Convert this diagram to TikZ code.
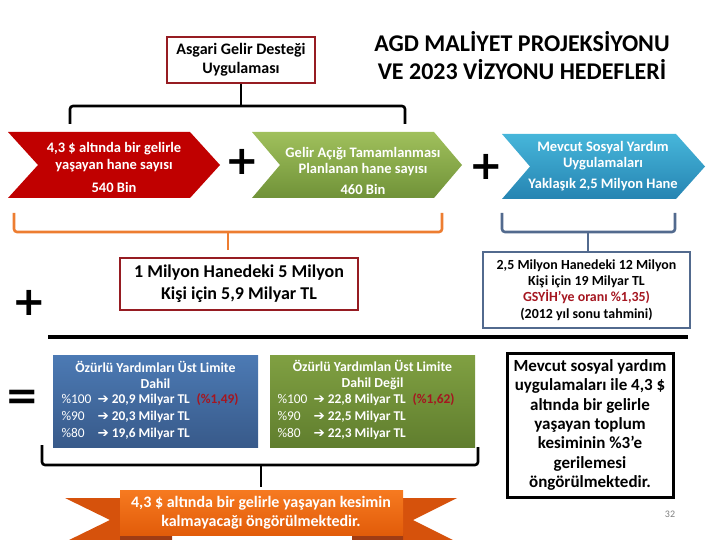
\documentclass[tikz,border=0pt]{standalone}
\usepackage{fontspec}
\setmainfont{Carlito}
\newfontfamily\sym{DejaVu Sans}
\definecolor{boxred}{RGB}{150,28,34}
\definecolor{chevred}{RGB}{192,0,0}
\definecolor{grtop}{RGB}{160,192,92}
\definecolor{grbot}{RGB}{112,146,56}
\definecolor{bltop}{RGB}{70,182,218}
\definecolor{blbot}{RGB}{38,132,178}
\definecolor{brkorange}{RGB}{237,125,49}
\definecolor{brkslate}{RGB}{82,106,142}
\definecolor{sbtop}{RGB}{76,122,180}
\definecolor{sbbot}{RGB}{56,90,138}
\definecolor{gbtop}{RGB}{128,160,66}
\definecolor{gbbot}{RGB}{96,126,46}
\definecolor{txtred}{RGB}{165,22,32}
\definecolor{ortop}{RGB}{246,122,32}
\definecolor{orbot}{RGB}{226,92,10}
\definecolor{ortail}{RGB}{214,82,12}
\definecolor{orfold}{RGB}{160,60,20}
\tikzset{
  brk/.style={line width=2.6pt, rounded corners=3pt},
  plussign/.style={font=\sym\bfseries\fontsize{40}{42}\selectfont, inner sep=0pt},
  chevtext/.style={align=center, text=white, font=\bfseries\fontsize{14.5}{17}\selectfont},
  valtext/.style={align=left, anchor=west, text=white, font=\bfseries\fontsize{13.4}{17}\selectfont},
}
\newcommand{\arr}{{\sym\fontsize{13.5}{14}\selectfont ➔}}
\newcommand{\pre}[1]{\makebox[36pt][l]{\mdseries #1}}
\begin{document}
\begin{tikzpicture}[x=1pt,y=-1pt]
\useasboundingbox (0,0) rectangle (720,540);

% title
\node[align=center, font=\bfseries\fontsize{24}{28}\selectfont] (title) at (522,56)
  {AGD MALİYET PROJEKSİYONU\\VE 2023 VİZYONU HEDEFLERİ};

% top box
\node[draw=boxred, line width=2pt, minimum width=148pt, minimum height=46pt,
      align=center, font=\bfseries\fontsize{16}{19}\selectfont] (agd) at (241,60)
  {Asgari Gelir Desteği\\Uygulaması};

% black top bracket
\coordinate (tbl) at (70,124);
\coordinate (tbr) at (405,124);
\draw[brk] (tbl) -- (70,106) -- (405,106) -- (tbr);
\draw[line width=2.6pt] (agd.south) -- (agd.south |- 0,106);

% chevrons
\fill[chevred] (8,132) -- (190,132) -- (220,165) -- (190,198) -- (8,198) -- (38,165) -- cycle;
\node[chevtext] (c1) at (114,167) {4,3 \$ altında bir gelirle\\yaşayan hane sayısı\\[6pt]540 Bin};

\shade[top color=grtop, bottom color=grbot] (252,132) -- (434,132) -- (462,165) -- (434,198) -- (252,198) -- (280,165) -- cycle;
\node[chevtext, font=\bfseries\fontsize{14.5}{15.5}\selectfont] (c2) at (363,171) {Gelir Açığı Tamamlanması\\Planlanan hane sayısı\\[6pt]460 Bin};

\shade[top color=bltop, bottom color=blbot] (502,134) -- (676,134) -- (705,166.5) -- (676,199) -- (502,199) -- (530,166.5) -- cycle;
\node[chevtext, font=\bfseries\fontsize{14.5}{15.5}\selectfont] (c3) at (603,166.5) {Mevcut Sosyal Yardım\\Uygulamaları\\[6pt]Yaklaşık 2,5 Milyon Hane};

% plus signs
\node[plussign] (p1) at (242,162) {+};
\node[plussign] (p2) at (486,167) {+};
\node[plussign] (p3) at (29,303) {+};
\node[plussign] (eq) at (22,400) {=};

% orange bracket
\node[draw=boxred, line width=2pt, minimum width=238pt, minimum height=52pt,
      align=center, font=\bfseries\fontsize{18}{22}\selectfont] (mil) at (239,284)
  {1 Milyon Hanedeki 5 Milyon\\Kişi için 5,9 Milyar TL};
\coordinate (obl) at (14,213);
\coordinate (obr) at (442,213);
\coordinate (obs) at (228,250);
\draw[brk, brkorange] (obl) -- (14,232) -- (442,232) -- (obr);
\draw[line width=2.6pt, brkorange] (228,232) -- (obs);

% slate bracket
\node[draw=brkslate, line width=2pt, minimum width=207pt, minimum height=76pt,
      align=center, font=\bfseries\fontsize{13.9}{16.3}\selectfont] (sy) at (586.5,290)
  {2,5 Milyon Hanedeki 12 Milyon\\Kişi için 19 Milyar TL\\\textcolor{txtred}{GSYİH’ye oranı \%1,35)}\\(2012 yıl sonu tahmini)};
\coordinate (sbl) at (502,213);
\coordinate (sbr) at (675,213);
\draw[brk, brkslate] (sbl) -- (502,232) -- (675,232) -- (sbr);
\draw[line width=2.6pt, brkslate] (588,232) -- (sy.north -| 588,0);

% black separator line
\coordinate (ll) at (48,337);
\coordinate (lr) at (688,337);
\draw[line width=3.6pt] (ll) -- (lr);

% blue box
\node[top color=sbtop, bottom color=sbbot, minimum width=205pt, minimum height=92pt] (ob) at (155.5,401) {};
\node[align=center, text=white, font=\bfseries\fontsize{13.8}{16}\selectfont] (obt) at (155.5,375)
  {Özürlü Yardımları Üst Limite\\Dahil};
\node[valtext] (obv) at (58,417)
  {\pre{\%100}\arr{} 20,9 Milyar TL\enspace\textcolor{txtred}{(\%1,49)}\\
   \pre{\%90}\arr{} 20,3 Milyar TL\\
   \pre{\%80}\arr{} 19,6 Milyar TL};

% green box
\node[top color=gbtop, bottom color=gbbot, minimum width=205pt, minimum height=92pt] (og) at (372.5,401) {};
\node[align=center, text=white, font=\bfseries\fontsize{13.8}{16}\selectfont] (ogt) at (372.5,375)
  {Özürlü Yardımlan Üst Limite\\Dahil Değil};
\node[valtext] (ogv) at (274,417)
  {\pre{\%100}\arr{} 22,8 Milyar TL\enspace\textcolor{txtred}{(\%1,62)}\\
   \pre{\%90}\arr{} 22,5 Milyar TL\\
   \pre{\%80}\arr{} 22,3 Milyar TL};

% right black box
\node[draw=black, line width=3pt, minimum width=166pt, minimum height=144pt,
      align=center, font=\bfseries\fontsize{17}{19.3}\selectfont] (mv) at (590,425)
  {Mevcut sosyal yardım\\uygulamaları ile 4,3 \$\\altında bir gelirle\\yaşayan toplum\\kesiminin \%3’e\\gerilemesi\\öngörülmektedir.};

% bottom black bracket
\coordinate (bbl) at (42,445);
\coordinate (bbr) at (478,447);
\draw[brk] (bbl) -- (42,465) -- (478,465) -- (bbr);

% ribbon
\fill[ortail] (65,498) -- (126,498) -- (126,542) -- (65,542) -- (110,520) -- cycle;
\fill[ortail] (397,498) -- (457,498) -- (413,520) -- (457,542) -- (397,542) -- cycle;
\fill[orfold, rounded corners=2pt] (120,532) rectangle (172,542);
\fill[orfold, rounded corners=2pt] (352,532) rectangle (403,542);
\shade[top color=ortop, bottom color=orbot] (120,490) rectangle (403,535);
\node[align=center, text=white, font=\bfseries\fontsize{16}{19}\selectfont] (rib) at (261,512.5)
  {4,3 \$ altında bir gelirle yaşayan kesimin\\kalmayacağı öngörülmektedir.};
\draw[line width=2.6pt] (261,465) -- (rib.north |- 0,487);

% page number
\node[text=gray, font=\fontsize{10}{12}\selectfont] (pg) at (670,514) {32};
\end{tikzpicture}
\end{document}
